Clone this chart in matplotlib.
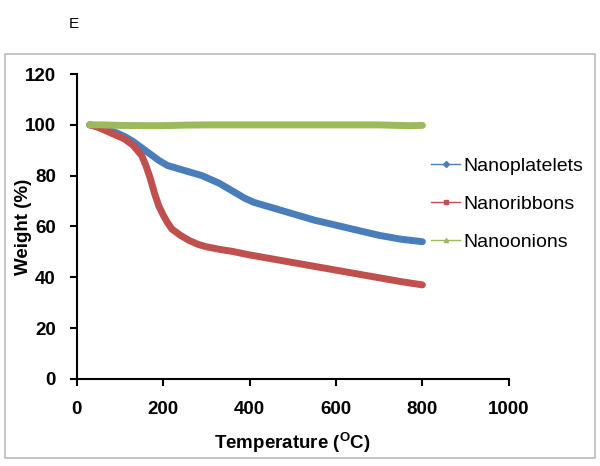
import matplotlib
matplotlib.use('Agg')
import matplotlib.pyplot as plt
from matplotlib.lines import Line2D
from matplotlib.patches import Rectangle

plt.rcParams['font.family'] = ['Liberation Sans', 'DejaVu Sans']
plt.rcParams['mathtext.fontset'] = 'custom'
plt.rcParams['mathtext.bf'] = 'Liberation Sans:bold'
plt.rcParams['mathtext.rm'] = 'Liberation Sans'

# data
temp_platelets = [30, 50, 70, 90, 110, 130, 150, 170, 190, 210, 230, 250, 270, 290, 310,
                  330, 350, 370, 390, 410, 430, 450, 470, 500, 550, 600, 650, 700, 750, 800]
w_platelets = [100, 99.5, 98.5, 97, 95.5, 93.5, 91, 88.5, 86, 84, 83, 82, 81, 80, 78.5,
               77, 75, 73, 71, 69.5, 68.5, 67.5, 66.5, 65, 62.5, 60.5, 58.5, 56.5, 55, 54]

temp_ribbons = [30, 50, 70, 90, 110, 130, 150, 160, 170, 180, 190, 200, 210, 220, 240,
                260, 280, 300, 330, 360, 400, 450, 500, 550, 600, 650, 700, 750, 800]
w_ribbons = [100, 99, 97.5, 96, 94.5, 92, 88, 84, 79, 73, 68, 64.5, 61.5, 59, 56.5,
             54.5, 53, 52, 51, 50.2, 48.8, 47.3, 45.8, 44.3, 42.8, 41.3, 39.8, 38.3, 37]

temp_onions = [30, 60, 100, 150, 200, 250, 300, 400, 500, 600, 700, 740, 770, 800]
w_onions = [100, 100, 99.8, 99.7, 99.7, 99.9, 100, 100, 100, 100, 100, 99.8, 99.7, 99.8]

names = ['Nanoplatelets', 'Nanoribbons', 'Nanoonions']
colors = ['#4A7EBB', '#C0504D', '#9BBB59']
markers = ['D', 's', '^']

fig = plt.figure(figsize=(6, 4.66), dpi=100)
ax = fig.add_axes([0.128, 0.187, 0.72, 0.654])

series = [(temp_platelets, w_platelets), (temp_ribbons, w_ribbons), (temp_onions, w_onions)]
for (t, w), c in zip(series, colors):
    ax.plot(t, w, color=c, lw=5, solid_capstyle='round', solid_joinstyle='round')

ax.set_xlim(0, 1000)
ax.set_ylim(0, 120)
ax.set_xticks(range(0, 1001, 200))
ax.set_yticks(range(0, 121, 20))
for s in ['top', 'right']:
    ax.spines[s].set_visible(False)
for s in ['left', 'bottom']:
    ax.spines[s].set_linewidth(1.5)
ax.tick_params(direction='out', length=5, width=1.5, labelsize=13.5)
ax.tick_params(axis='y', pad=10)
ax.tick_params(axis='x', pad=11)
for lab in ax.get_xticklabels() + ax.get_yticklabels():
    lab.set_fontweight('bold')

ax.set_xlabel(r'Temperature ($\mathbf{^{O}}$C)', fontsize=13.5, fontweight='bold')
ax.set_ylabel('Weight (%)', fontsize=13.5, fontweight='bold')
ax.xaxis.set_label_coords(0.5, -0.17)
ax.yaxis.set_label_coords(-0.104, 0.5)

handles = [Line2D([0], [0], color=c, lw=1, marker=m, markersize=3) for c, m in zip(colors, markers)]
ax.legend(handles, names, loc='upper left', bbox_to_anchor=(0.78, 0.785), frameon=False,
          fontsize=14, handlelength=1.5, handletextpad=0.15, labelspacing=1.05)

fig.patches.append(Rectangle((0.008, 0.017), 0.983, 0.868, transform=fig.transFigure,
                             fill=False, edgecolor='#BBBBBB', lw=1.2))
fig.text(0.115, 0.94, 'E', fontsize=11)

fig.savefig('out.png', dpi=100)
